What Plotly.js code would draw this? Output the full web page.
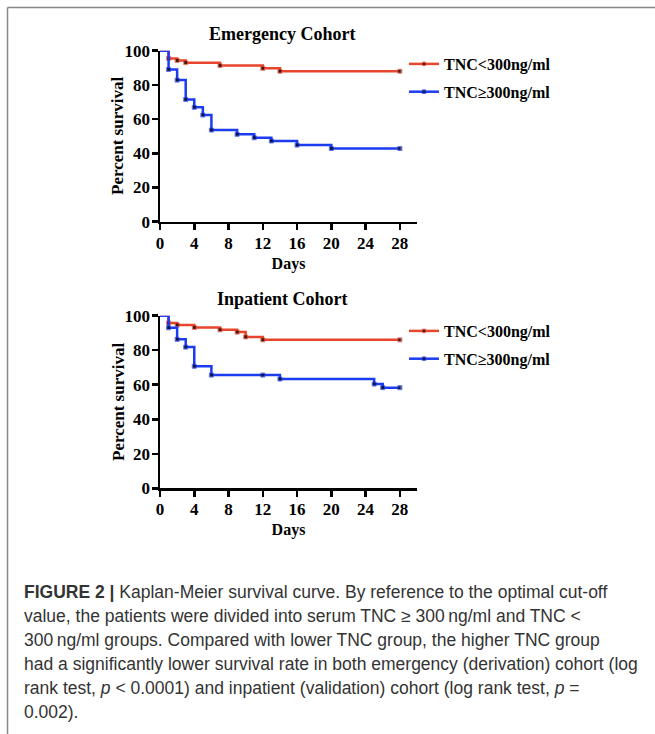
<!DOCTYPE html>
<html>
<head>
<meta charset="utf-8">
<script src="https://cdn.plot.ly/plotly-3.0.1.min.js"></script>
<style>
html,body{margin:0;padding:0;background:#fff;}
#chart{width:655px;height:734px;}
</style>
</head>
<body>
<div id="chart"></div>
<script>
// ---- Data ----
const groupNames = ["TNC&lt;300ng/ml", "TNC≥300ng/ml"];
const cohortTitles = ["Emergency Cohort", "Inpatient Cohort"];
const xTickVals = [0, 4, 8, 12, 16, 20, 24, 28];
const yTickVals = [0, 20, 40, 60, 80, 100];

// Emergency cohort
const emLowDays = [0, 1, 2, 3, 7, 12, 14, 28];
const emLowSurv = [100, 95.5, 94.3, 93.0, 91.3, 89.7, 88.0, 88.0];
const emHighDays = [0, 1, 2, 3, 4, 5, 6, 9, 11, 13, 16, 20, 28];
const emHighSurv = [100, 89.0, 82.8, 71.5, 66.9, 62.4, 53.6, 51.1, 49.1, 47.2, 44.8, 42.8, 42.8];

// Inpatient cohort
const inLowDays = [0, 1, 2, 4, 7, 9, 10, 12, 28];
const inLowSurv = [100, 95.8, 94.6, 93.2, 91.8, 90.5, 87.7, 86.0, 86.0];
const inHighDays = [0, 1, 2, 3, 4, 6, 12, 14, 25, 26, 28];
const inHighSurv = [100, 93.0, 86.3, 81.8, 70.7, 65.6, 65.6, 63.3, 60.4, 58.3, 58.3];

const captionLines = [
  "<b>FIGURE 2 |</b> Kaplan-Meier survival curve. By reference to the optimal cut-off",
  "value, the patients were divided into serum TNC ≥ 300\u2009ng/ml and TNC &lt;",
  "300\u2009ng/ml groups. Compared with lower TNC group, the higher TNC group",
  "had a significantly lower survival rate in both emergency (derivation) cohort (log",
  "rank test, <i>p</i> &lt; 0.0001) and inpatient (validation) cohort (log rank test, <i>p</i> =",
  "0.002)."
];

// ---- Styling / layout ----
const W = 655, H = 734;
const RED = "#e8452c", BLUE = "#1b3cf0";
const SERIF = "Liberation Serif, Times New Roman, serif";
const px = v => v / W;
const py = v => 1 - v / H;

function censorSizes(n) { return Array.from({length: n}, (_, i) => i === 0 ? 0 : 4); }

function kmTrace(x, y, name, color, xa, ya, legend, group) {
  return {
    type: "scatter", mode: "lines+markers", x: x, y: y, name: name,
    xaxis: xa, yaxis: ya, legend: legend, legendgroup: group,
    line: {shape: "hv", color: color, width: 2.5},
    marker: {symbol: "square", color: "#000", size: censorSizes(x.length)},
    hoverinfo: "x+y"
  };
}

const data = [
  kmTrace(emLowDays, emLowSurv, groupNames[0], RED, "x", "y", "legend", "a1"),
  kmTrace(emHighDays, emHighSurv, groupNames[1], BLUE, "x", "y", "legend", "a2"),
  kmTrace(inLowDays, inLowSurv, groupNames[0], RED, "x2", "y2", "legend2", "b1"),
  kmTrace(inHighDays, inHighSurv, groupNames[1], BLUE, "x2", "y2", "legend2", "b2")
];

function xAxis(anchor, domain) {
  return {
    anchor: anchor, domain: domain, range: [0, 30], tickvals: xTickVals,
    showline: true, linecolor: "#000", linewidth: 2.5, ticks: "outside",
    ticklen: 6, tickwidth: 2.5, tickcolor: "#000", showgrid: false, zeroline: false,
    ticklabelstandoff: -2,
    tickfont: {family: SERIF, size: 17, color: "#000", weight: "bold"},
    title: {text: "<b>Days</b>", font: {family: SERIF, size: 16, color: "#000"}, standoff: 6},
    fixedrange: true
  };
}
function yAxis(anchor, domain) {
  return {
    anchor: anchor, domain: domain, range: [0, 100], tickvals: yTickVals,
    showline: true, linecolor: "#000", linewidth: 2.5, ticks: "outside",
    ticklen: 6, tickwidth: 2.5, tickcolor: "#000", showgrid: false, zeroline: false,
    ticklabelstandoff: -2,
    tickfont: {family: SERIF, size: 17, color: "#000", weight: "bold"},
    fixedrange: true
  };
}

function legendCfg(xpx, ypx) {
  return {
    x: px(xpx), xanchor: "left", y: py(ypx), yanchor: "top",
    font: {family: SERIF, size: 16, color: "#000", weight: "bold"},
    bgcolor: "rgba(0,0,0,0)", borderwidth: 0, traceorder: "grouped",
    tracegroupgap: 4, itemwidth: 30
  };
}

const annotations = [
  {text: "<b>" + cohortTitles[0] + "</b>", x: px(282), y: py(34), xref: "paper", yref: "paper",
   xanchor: "center", yanchor: "middle",
   showarrow: false, font: {family: SERIF, size: 18, color: "#000"}},
  {text: "<b>" + cohortTitles[1] + "</b>", x: px(282), y: py(299), xref: "paper", yref: "paper",
   xanchor: "center", yanchor: "middle",
   showarrow: false, font: {family: SERIF, size: 18, color: "#000"}},
  // y-axis titles
  {text: "<b>Percent survival</b>", x: px(118), y: py(136), xref: "paper", yref: "paper",
   xanchor: "center", yanchor: "middle", textangle: -90,
   showarrow: false, font: {family: SERIF, size: 17, color: "#000"}},
  {text: "<b>Percent survival</b>", x: px(118), y: py(402), xref: "paper", yref: "paper",
   xanchor: "center", yanchor: "middle", textangle: -90,
   showarrow: false, font: {family: SERIF, size: 17, color: "#000"}}
];
captionLines.forEach((t, i) => {
  annotations.push({
    text: t, x: px(22), y: py(592 + i * 24), xref: "paper", yref: "paper",
    xanchor: "left", yanchor: "middle", showarrow: false, align: "left",
    font: {family: "Liberation Sans, Arial, sans-serif", size: 17.5, color: "#333"}
  });
});

const layout = {
  width: W, height: H, margin: {l: 0, r: 0, t: 0, b: 0},
  paper_bgcolor: "#fff", plot_bgcolor: "rgba(0,0,0,0)",
  showlegend: true,
  xaxis: xAxis("y", [px(160), px(417)]),
  yaxis: yAxis("x", [py(221.7), py(50.7)]),
  xaxis2: xAxis("y2", [px(160), px(417)]),
  yaxis2: yAxis("x2", [py(488.3), py(315.7)]),
  legend: legendCfg(404, 47),
  legend2: legendCfg(404, 314),
  annotations: annotations,
  shapes: [
    {type: "line", xref: "paper", yref: "paper", x0: px(7.5), x1: 1, y0: py(7.5), y1: py(7.5),
     line: {color: "#888", width: 1.5}},
    {type: "line", xref: "paper", yref: "paper", x0: px(7.5), x1: px(7.5), y0: py(7.5), y1: 0,
     line: {color: "#888", width: 1.5}}
  ]
};

Plotly.newPlot("chart", data, layout, {displayModeBar: false, staticPlot: true});
</script>
</body>
</html>
